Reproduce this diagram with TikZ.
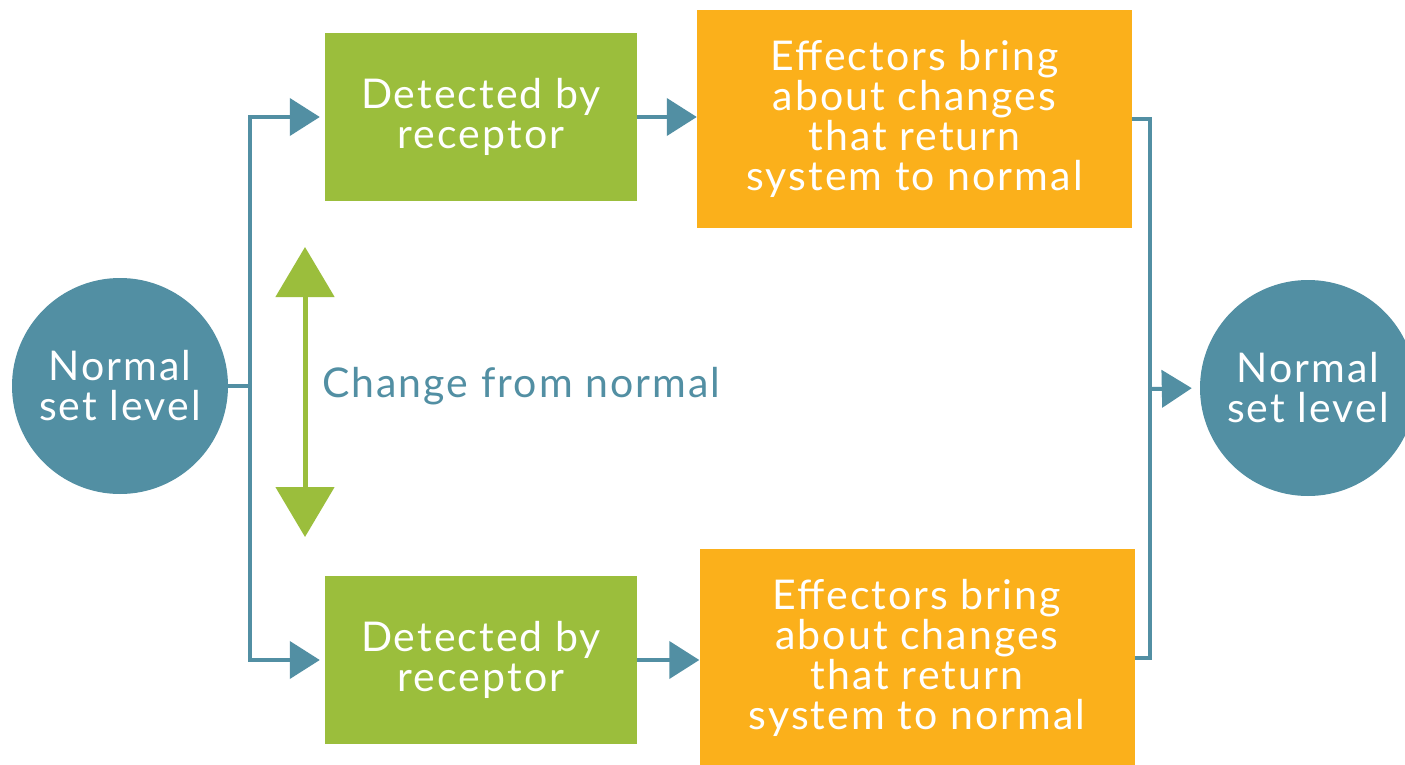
\documentclass[tikz,border=0pt]{standalone}
\usepackage{fontspec}
\setmainfont{Lato}[LetterSpace=5]
\usetikzlibrary{arrows.meta,calc}
\definecolor{teal1}{RGB}{82,143,163}
\definecolor{green1}{RGB}{155,190,60}
\definecolor{orange1}{RGB}{251,176,27}
\tikzset{
  txt/.style={font=\fontsize{41}{40}\selectfont, text=white, align=center},
  greenbox/.style={txt, fill=green1, draw=none, minimum width=312pt, minimum height=168pt, inner sep=0pt},
  orangebox/.style={txt, fill=orange1, draw=none, minimum width=435pt, minimum height=217pt, inner sep=0pt},
  levelcircle/.style={txt, circle, fill=teal1, draw=none, minimum size=216pt, inner sep=0pt},
  conn/.style={draw=teal1, line width=4pt},
  flow/.style={conn, -{Triangle[length=30pt,width=37pt]}},
  updown/.style={draw=green1, line width=5pt, {Triangle[length=50pt,width=58pt]}-{Triangle[length=50pt,width=58pt]}},
}
\begin{document}
\begin{tikzpicture}[x=1pt,y=-1pt]
\useasboundingbox (0,0) rectangle (1405,765);
\clip (0,0) rectangle (1405,765);
\fill[white] (0,0) rectangle (1405,765);
\node[levelcircle] (L) at (120,386) {Normal\\set level};
\node[levelcircle] (R) at (1308,388) {Normal\\set level};
\node[greenbox] (g1) at (481,117) {Detected by\\receptor};
\node[greenbox] (g2) at (481,660) {Detected by\\receptor};
\node[orangebox] (o1) at (914.5,119) {Effectors bring\\about changes\\that return\\system to normal};
\node[orangebox] (o2) at (917,657.5) {Effectors bring\\about changes\\that return\\system to normal};
\node[anchor=west, font=\fontsize{41}{40}\selectfont, text=teal1, inner sep=0pt] (chg) at (322,386) {Change from normal};
\coordinate (jl) at (250,386);
\coordinate (jr) at (1150,389);
\coordinate (uptip) at (305,247);
\coordinate (downtip) at (305,537);
\draw[conn] (L.east) -- (jl);
\draw[flow, shorten >=5pt] (jl) |- (g1.west);
\draw[flow, shorten >=5pt] (jl) |- (g2.west);
\draw[flow] (g1.east) -- (g1.east -| o1.west);
\draw[flow] (g2.east) -- (g2.east -| o2.west);
\draw[conn] (o1.east) -| (jr);
\draw[conn] (o2.east) -| (jr);
\draw[flow, shorten >=8pt] (jr) -- (R.west);
\draw[updown] (uptip) -- (downtip);
\end{tikzpicture}
\end{document}
